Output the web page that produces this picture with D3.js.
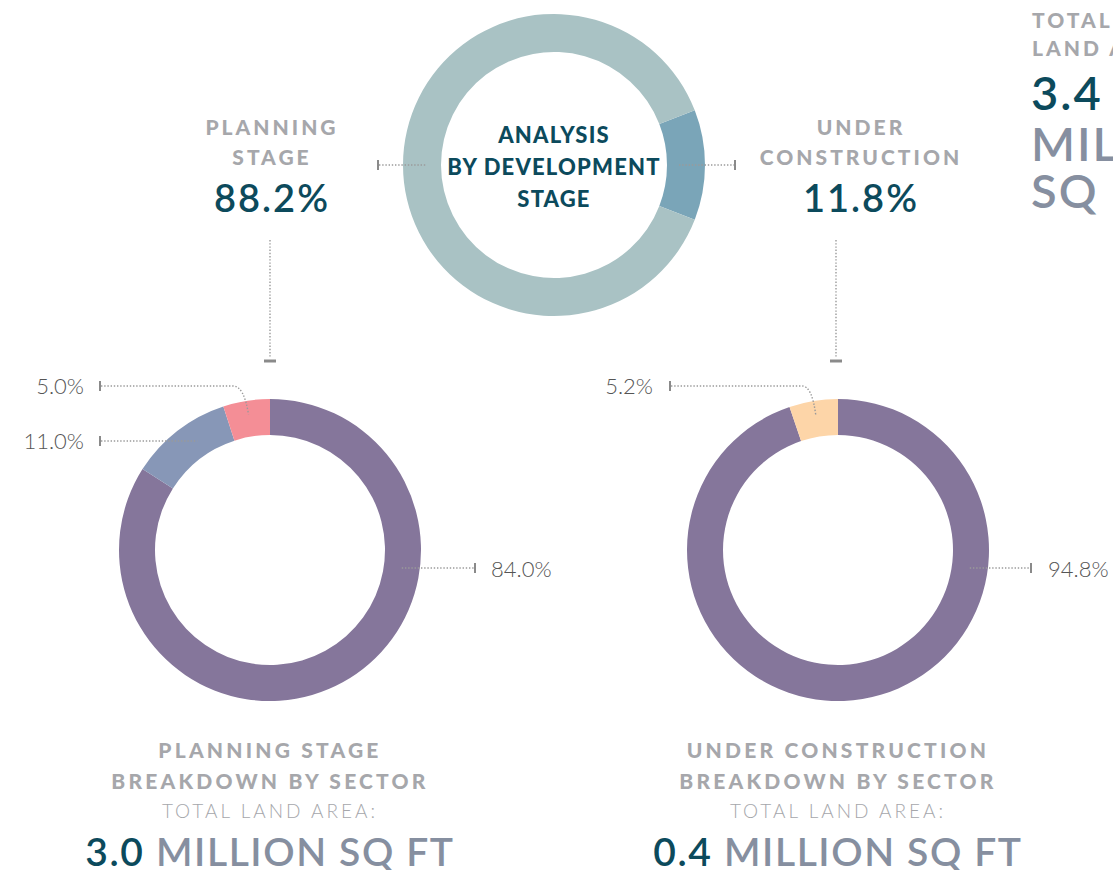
<!DOCTYPE html>
<html>
<head>
<meta charset="utf-8">
<script src="https://cdn.jsdelivr.net/npm/d3@7"></script>
<style>
  html, body { margin: 0; padding: 0; background: #ffffff; }
  svg { display: block; font-family: Lato, "Open Sans", sans-serif; }
</style>
</head>
<body>
<svg id="chart" width="1113" height="870"></svg>
<script>
// Development stage split (share of total land area, %)
const stageNames  = ["Planning Stage", "Under Construction"];
const stageValues = [88.2, 11.8];
const stageColors = ["#a9c2c4", "#7aa5b8"];

// Sector split within the planning stage (%)
const planningSectors = ["Sector A", "Sector B", "Sector C"];
const planningValues  = [84.0, 11.0, 5.0];
const planningColors  = ["#85769b", "#8797b7", "#f48e96"];

// Sector split within the under construction stage (%)
const constructionSectors = ["Sector A", "Sector C"];
const constructionValues  = [94.8, 5.2];
const constructionColors  = ["#85769b", "#fdd5a8"];

// Total land area (million sq ft)
const totalArea        = "3.4";
const planningArea     = "3.0";
const constructionArea = "0.4";

const DARK = "#0c4a5c";
const HEAD = "#a6a7ab";
const SLATE = "#868fa0";
const LABEL = "#555555";
const LEADER = "#9a9a9a";

const svg = d3.select("#chart");

const arcGen = (ri, ro) => d3.arc().innerRadius(ri).outerRadius(ro);

function donut(g, values, colors, startAngle, endAngle, ri, ro) {
  const pie = d3.pie().sort(null).value(d => d)
    .startAngle(startAngle).endAngle(endAngle);
  const arcs = pie(values);
  g.selectAll("path.slice").data(arcs).join("path")
    .attr("class", "slice")
    .attr("d", arcGen(ri, ro))
    .attr("fill", (d, i) => colors[i]);
  return arcs;
}

function dotted(d) {
  return svg.append("path").attr("d", d)
    .attr("fill", "none").attr("stroke", LEADER)
    .attr("stroke-width", 1.4).attr("stroke-dasharray", "1.4 1.8");
}
function vtick(x, y) {
  svg.append("line").attr("x1", x).attr("x2", x).attr("y1", y - 5).attr("y2", y + 5)
    .attr("stroke", "#8a8a8a").attr("stroke-width", 2);
}
function hbar(x, y) {
  svg.append("line").attr("x1", x - 6).attr("x2", x + 6).attr("y1", y).attr("y2", y)
    .attr("stroke", "#8a8a8a").attr("stroke-width", 3);
}
function text(x, y, str, opts) {
  const t = svg.append("text").attr("x", x).attr("y", y)
    .attr("text-anchor", opts.anchor || "middle")
    .attr("fill", opts.fill).attr("font-size", opts.size)
    .attr("font-weight", opts.weight || 400)
    .attr("letter-spacing", opts.ls || 0)
    .text(str);
  return t;
}

// ---- Top donut: analysis by development stage ----
const stageRing = { x: 554, y: 165, ri: 113, ro: 151 };
const gStage = svg.append("g").attr("transform", `translate(${stageRing.x},${stageRing.y})`);
// Under construction slice centred at 3 o'clock, planning fills the rest
const ucSpan = stageValues[1] / 100 * 2 * Math.PI;
const ucStart = Math.PI / 2 - ucSpan / 2;
donut(gStage, [stageValues[1], stageValues[0]], [stageColors[1], stageColors[0]],
      ucStart, ucStart + 2 * Math.PI, stageRing.ri, stageRing.ro);

text(stageRing.x, 143, "ANALYSIS", { fill: DARK, size: 22, weight: 900, ls: 1.2 });
text(stageRing.x, 175, "BY DEVELOPMENT", { fill: DARK, size: 22, weight: 900, ls: 1.2 });
text(stageRing.x, 207, "STAGE", { fill: DARK, size: 22, weight: 900, ls: 1.2 });

// stage leaders
dotted(`M379,165H${stageRing.x - 128}`); vtick(378, 165);
dotted(`M${stageRing.x + 125},165H734`); vtick(735, 165);

// stage labels
const pct1 = v => d3.format(".1f")(v) + "%";
text(272, 135, "PLANNING", { fill: HEAD, size: 21, weight: 900, ls: 3 });
text(272, 165, "STAGE", { fill: HEAD, size: 21, weight: 900, ls: 3 });
text(272, 212, pct1(stageValues[0]), { fill: DARK, size: 38, weight: 600, ls: 2 });
text(861, 135, "UNDER", { fill: HEAD, size: 21, weight: 900, ls: 3 });
text(861, 165, "CONSTRUCTION", { fill: HEAD, size: 21, weight: 900, ls: 3 });
text(861, 212, pct1(stageValues[1]), { fill: DARK, size: 38, weight: 600, ls: 2 });

// links down to the breakdown donuts
dotted("M270,240V357"); hbar(270, 361);
dotted("M836,240V357"); hbar(836, 361);

// top-right total
text(1032, 28, "TOTAL", { fill: HEAD, size: 21, weight: 900, ls: 3, anchor: "start" });
text(1032, 56, "LAND AREA:", { fill: HEAD, size: 21, weight: 900, ls: 3, anchor: "start" });
text(1031, 110, totalArea, { fill: DARK, size: 47, weight: 600, ls: 2, anchor: "start" });
text(1031, 161, "MILLION", { fill: SLATE, size: 47, weight: 600, ls: 2, anchor: "start" });
text(1031, 208, "SQ FT", { fill: SLATE, size: 47, weight: 600, ls: 2, anchor: "start" });

// ---- Bottom donuts: breakdown by sector ----
function breakdown(cx, values, colors) {
  const g = svg.append("g").attr("transform", `translate(${cx},550)`);
  // first value runs clockwise from 12 o'clock, the others wrap back to it
  return donut(g, values, colors, 0, 2 * Math.PI, 115, 151);
}

const pArcs = breakdown(270, planningValues, planningColors);
const cArcs = breakdown(838, constructionValues, constructionColors);

function polar(cx, cy, r, a) { return [cx + r * Math.sin(a), cy - r * Math.cos(a)]; }
const mid = d => (d.startAngle + d.endAngle) / 2;

// planning labels
{
  const cx = 270, cy = 550;
  // largest sector, to the right
  const yR = 568;
  dotted(`M${cx + Math.sqrt(133 * 133 - (yR - cy) ** 2)},${yR}H474`); vtick(475, yR);
  text(491, 577, pct1(planningValues[0]), { fill: LABEL, size: 22, weight: 300, anchor: "start" });
  // middle sector, horizontal leader into the slice
  const yM = 441;
  dotted(`M101,${yM}H${cx - Math.sqrt(131 * 131 - (cy - yM) ** 2)}`); vtick(100, yM);
  text(84, 449, pct1(planningValues[1]), { fill: LABEL, size: 22, weight: 300, anchor: "end" });
  // smallest sector, bent leader
  const [px, py] = polar(cx, cy, 137, mid(pArcs[2]));
  dotted(`M101,386H233Q244,386 ${px},${py}`); vtick(100, 386);
  text(84, 394, pct1(planningValues[2]), { fill: LABEL, size: 22, weight: 300, anchor: "end" });
}

// under construction labels
{
  const cx = 838, cy = 550;
  const yR = 568;
  dotted(`M${cx + Math.sqrt(133 * 133 - (yR - cy) ** 2)},${yR}H1030`); vtick(1031, yR);
  text(1048, 577, pct1(constructionValues[0]), { fill: LABEL, size: 22, weight: 300, anchor: "start" });
  const [px, py] = polar(cx, cy, 137, mid(cArcs[1]));
  dotted(`M671,386H802Q812,386 ${px},${py}`); vtick(670, 386);
  text(653, 394, pct1(constructionValues[1]), { fill: LABEL, size: 22, weight: 300, anchor: "end" });
}

// ---- Bottom captions ----
function caption(cx, line1, area) {
  text(cx, 758, line1, { fill: HEAD, size: 21, weight: 900, ls: 3.2 });
  text(cx, 789, "BREAKDOWN BY SECTOR", { fill: HEAD, size: 21, weight: 900, ls: 3.2 });
  text(cx, 818, "TOTAL LAND AREA:", { fill: HEAD, size: 19, weight: 300, ls: 3 });
  const t = text(cx, 866, null, { fill: SLATE, size: 39, weight: 600, ls: 1.6 });
  t.append("tspan").attr("fill", DARK).text(area + " ");
  t.append("tspan").text("MILLION SQ FT");
}
caption(270, "PLANNING STAGE", planningArea);
caption(838, "UNDER CONSTRUCTION", constructionArea);
</script>
</body>
</html>
